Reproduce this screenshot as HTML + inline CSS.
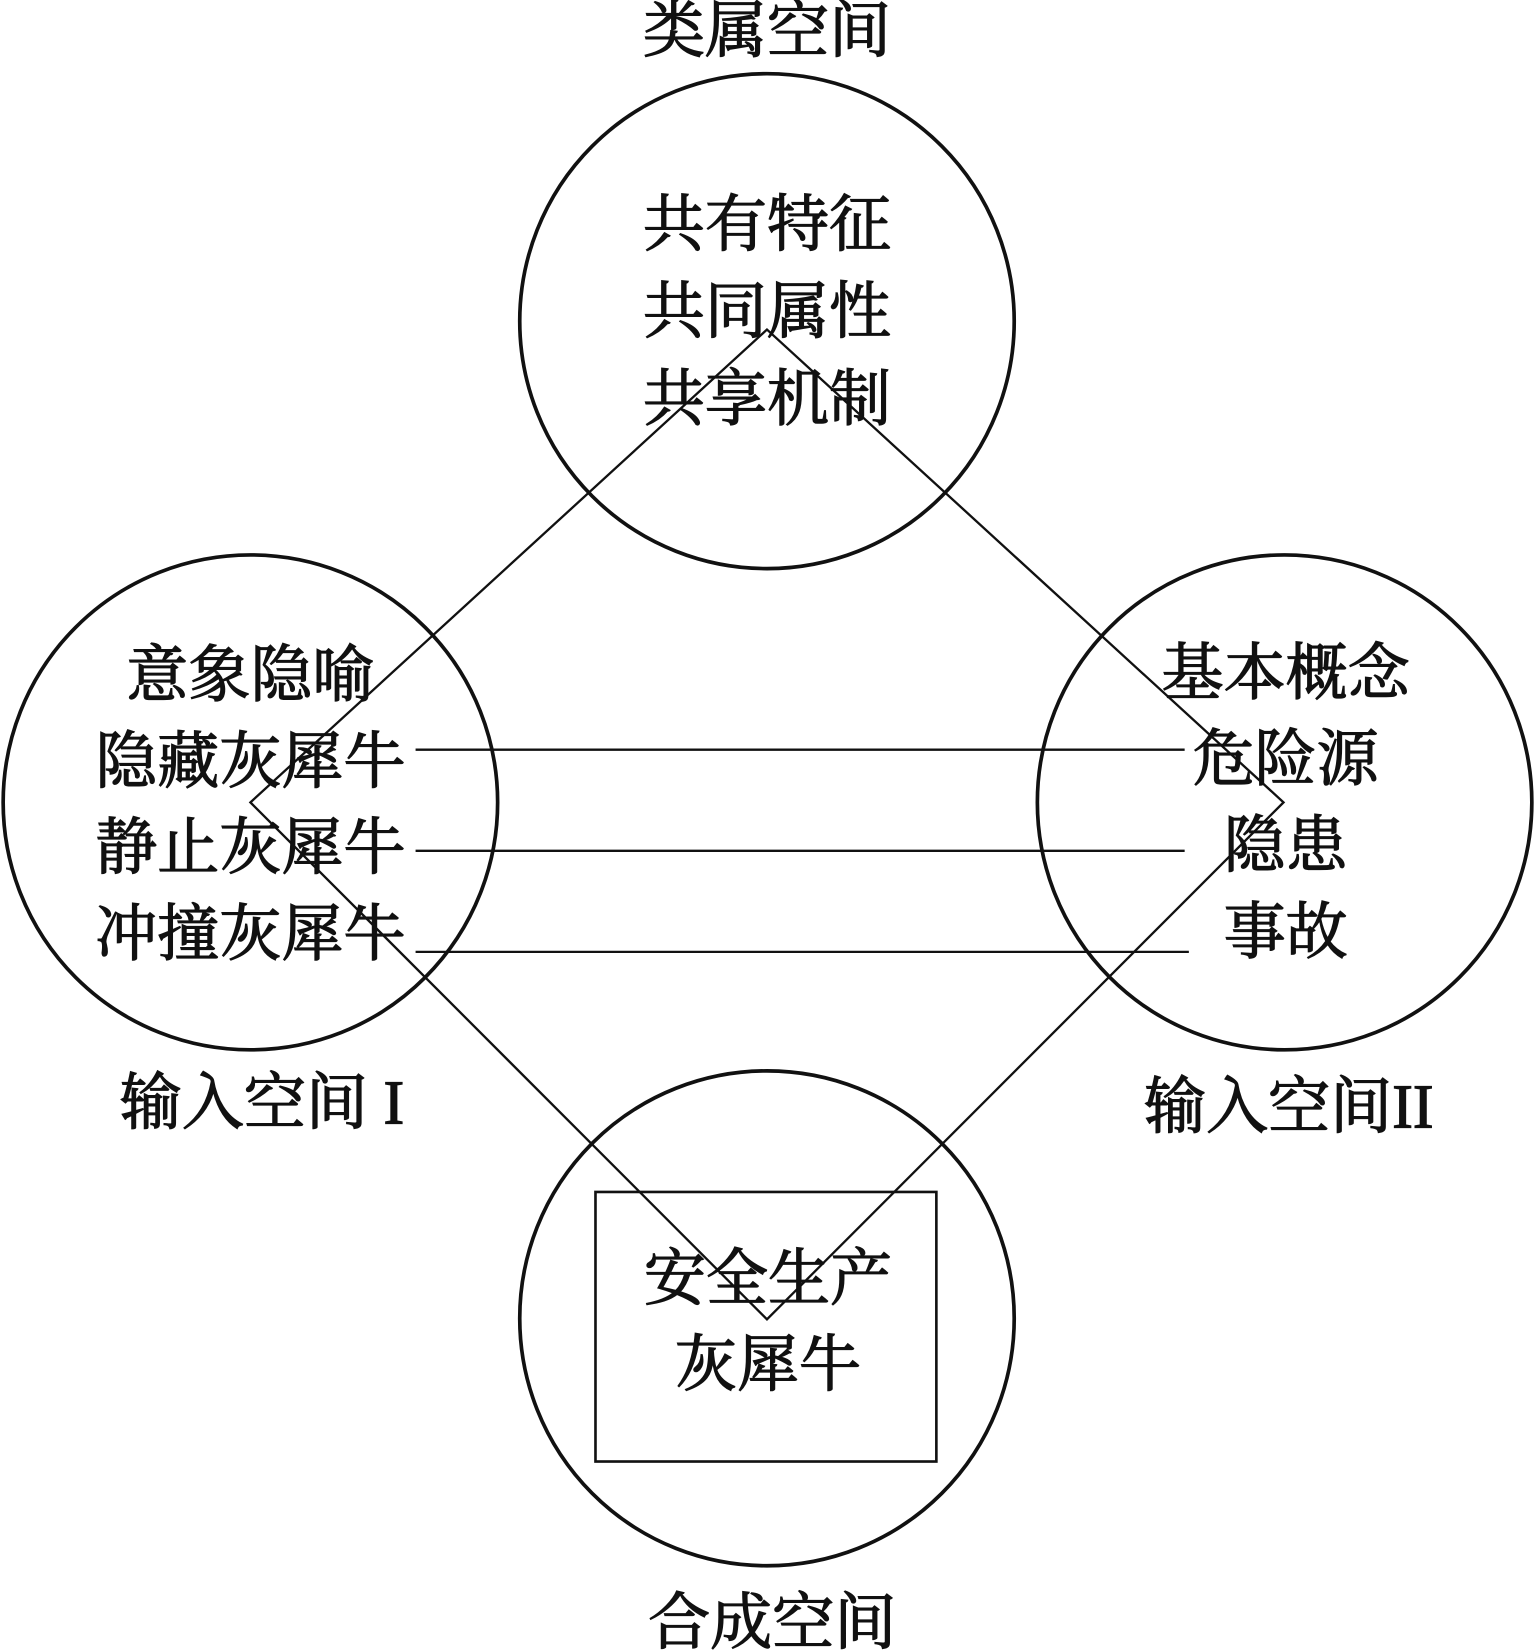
<!DOCTYPE html>
<html><head><meta charset="utf-8"><style>html,body{margin:0;padding:0;background:#fff}svg{display:block}</style></head>
<body>
<svg width="1535" height="1650" viewBox="0 0 1459 1567" preserveAspectRatio="none" xmlns="http://www.w3.org/2000/svg">
<g fill="none" stroke="#111">
<circle cx="729" cy="305" r="235" stroke-width="3.5"/>
<circle cx="238" cy="762" r="235" stroke-width="3.5"/>
<circle cx="1221" cy="762" r="235" stroke-width="3.5"/>
<circle cx="729" cy="1252" r="235" stroke-width="3.5"/>
<rect x="566" y="1132" width="324" height="256" stroke-width="2.5"/>
<polygon points="729,313 1220,762 729,1253 238,762" stroke-width="2.2"/>
<line x1="395" y1="712" x2="1126" y2="712" stroke-width="2.2"/>
<line x1="395" y1="808" x2="1126" y2="808" stroke-width="2.2"/>
<line x1="395" y1="904" x2="1130" y2="904" stroke-width="2.2"/>
</g>
<g font-family="'Liberation Serif','Noto Serif CJK SC',serif" font-size="59" fill="#111" stroke="#111" stroke-width="1.2" text-anchor="middle" dominant-baseline="central">
<text x="729" y="30">类属空间</text>
<text x="729" y="214">共有特征</text>
<text x="729" y="297">共同属性</text>
<text x="729" y="380">共享机制</text>
<text x="238" y="642">意象隐喻</text>
<text x="238" y="724">隐藏灰犀牛</text>
<text x="238" y="806">静止灰犀牛</text>
<text x="238" y="888">冲撞灰犀牛</text>
<text x="1222" y="640">基本概念</text>
<text x="1222" y="722">危险源</text>
<text x="1222" y="804">隐患</text>
<text x="1222" y="886">事故</text>
<text x="249" y="1048">输入空间 I</text>
<text x="1225" y="1052">输入空间II</text>
<text x="730" y="1215">安全生产</text>
<text x="730" y="1297">灰犀牛</text>
<text x="734" y="1542">合成空间</text>
</g>
</svg>
</body></html>
